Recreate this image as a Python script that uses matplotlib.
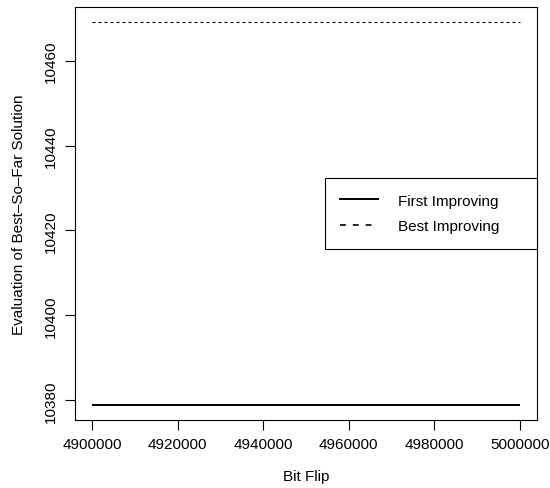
import matplotlib
matplotlib.use('agg')
import matplotlib.pyplot as plt  # noqa: E402
from matplotlib.lines import Line2D  # noqa: E402

plt.rcParams['font.family'] = ['Liberation Sans', 'DejaVu Sans']
plt.rcParams['font.size'] = 11

# data
bit_flip = [4900000, 4925000, 4950000, 4975000, 5000000]
first_improving = [10379, 10379, 10379, 10379, 10379]
best_improving = [10469, 10469, 10469, 10469, 10469]
x_ticks = [4900000, 4920000, 4940000, 4960000, 4980000, 5000000]
y_ticks = [10380, 10400, 10420, 10440, 10460]
labels = ['First Improving', 'Best Improving']

fig = plt.figure(figsize=(5.5, 4.89), dpi=100)
ax = fig.add_axes([75/550, 68/489, 462/550, 413/489])

ax.plot(bit_flip, first_improving, color='black', lw=1.4, solid_capstyle='butt')
ax.plot(bit_flip, best_improving, color='black', lw=0.8, dashes=(2.7, 2.7))

ax.set_xlim(4896000, 5004000)
ax.set_ylim(10375.4, 10472.6)
ax.set_xticks(x_ticks)
ax.set_xticklabels([str(v) for v in x_ticks])
ax.set_yticks(y_ticks)
ax.set_yticklabels([str(v) for v in y_ticks], rotation=90, va='center')
ax.tick_params(direction='out', length=7, width=0.8, pad=5)
for s in ax.spines.values():
    s.set_linewidth(0.8)

ax.set_xlabel('Bit Flip', labelpad=13)
ax.set_ylabel('Evaluation of Best\u2013So\u2013Far Solution', labelpad=13)

# legend handles use R's longer dash pattern
handles = [Line2D([], [], color='black', lw=1.4),
           Line2D([], [], color='black', lw=1.2, dashes=(3.5, 4.2))]
leg = ax.legend(handles, labels, loc='center left', mode='expand',
                bbox_to_anchor=(250/462, 0, 212/462, 1), borderaxespad=0,
                fancybox=False, edgecolor='black', framealpha=1,
                handlelength=2.5, handletextpad=1.25, borderpad=1.0,
                labelspacing=0.75)
leg.get_frame().set_linewidth(0.8)

plt.savefig('out.png', dpi=100)
